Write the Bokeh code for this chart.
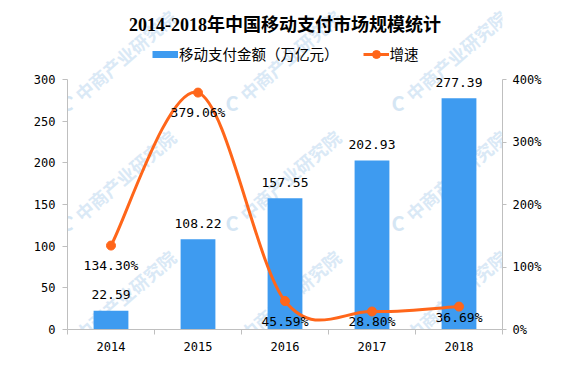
from bokeh.plotting import figure
from bokeh.models import (Range1d, LinearAxis, FixedTicker, PrintfTickFormatter,
                          Label, Legend, LegendItem, ColumnDataSource)
from bokeh.embed import file_html
from bokeh.resources import INLINE

# ---------------- data ----------------
years = ["2014", "2015", "2016", "2017", "2018"]
amount = [22.59, 108.22, 157.55, 202.93, 277.39]          # 万亿元
growth = [134.30, 379.06, 45.59, 28.80, 36.69]            # %
left_ticks = [0, 50, 100, 150, 200, 250, 300]
right_ticks = [0, 100, 200, 300, 400]

title_text = "2014-2018年中国移动支付市场规模统计"
bar_name = "移动支付金额（万亿元）"
line_name = "增速"
watermark = "中商产业研究院"

# ---------------- style ----------------
BLUE = "#3E9BF0"
ORANGE = "#FF661A"
AXIS = "#BFBFBF"
NUM_FONT = "DejaVu Sans Mono"
CJK_FONT = "Noto Sans CJK SC"

W, H = 552, 363
FRAME_H = 329          # frame spans the canvas top down to the x axis
AXIS_H = 250           # the value axes use the lower 250 px of the frame
LMAX, RMAX = left_ticks[-1], right_ticks[-1]

p = figure(width=W, height=H, output_backend="svg", toolbar_location=None,
           x_range=Range1d(0, len(years)),
           y_range=Range1d(0, LMAX * FRAME_H / AXIS_H),
           min_border_left=67, min_border_right=50, min_border_top=0,
           min_border_bottom=H - FRAME_H, title=None)
p.outline_line_color = None
p.xgrid.visible = False
p.ygrid.visible = False
p.extra_y_ranges = {"pct": Range1d(0, RMAX * FRAME_H / AXIS_H)}

xc = [i + 0.5 for i in range(len(years))]

# watermarks (decorative, frame-relative screen coords)
for X in [67, 232, 398]:
    for Y in [102, 222, 342]:
        p.add_layout(Label(x=X - 67 - 7, y=FRAME_H - Y, x_units="screen", y_units="screen",
                           text="C", text_color="#D5E6F4", text_font=CJK_FONT,
                           text_font_style="bold", text_font_size="20px",
                           text_align="left", text_baseline="middle", level="underlay"))
        p.add_layout(Label(x=X - 67 + 10, y=FRAME_H - Y + 6, x_units="screen", y_units="screen",
                           text=watermark, text_color="#DAE9F6", text_font=CJK_FONT,
                           text_font_style="bold", text_font_size="18px", angle=0.716,
                           text_align="left", text_baseline="middle", level="underlay"))

# bars
src = ColumnDataSource(dict(x=xc, top=amount, lab=[f"{v:.2f}" for v in amount],
                            g=growth, glab=[f"{v:.2f}%" for v in growth],
                            goff=[20, 20, 20, 10, 11]))
p.vbar(x="x", top="top", width=0.4, source=src, fill_color=BLUE, line_color=None)
p.text(x="x", y="top", text="lab", source=src, text_align="center",
       text_baseline="middle", y_offset=-16, text_font_size="13px",
       text_font={"value": NUM_FONT}, text_color="black")

# smooth line (bezier segments through the data points)
n = len(growth)
def pt(i):
    i = max(0, min(n - 1, i))
    return xc[i], growth[i]
seg = dict(x0=[], y0=[], x1=[], y1=[], cx0=[], cy0=[], cx1=[], cy1=[])
for i in range(n - 1):
    xa, ya = pt(i - 1); x0, y0 = pt(i); x1, y1 = pt(i + 1); xb, yb = pt(i + 2)
    seg["x0"].append(x0); seg["y0"].append(y0)
    seg["x1"].append(x1); seg["y1"].append(y1)
    seg["cx0"].append(x0 + (x1 - xa) / 6); seg["cy0"].append(y0 + (y1 - ya) / 6)
    seg["cx1"].append(x1 - (xb - x0) / 6); seg["cy1"].append(y1 - (yb - y0) / 6)
p.bezier(source=ColumnDataSource(seg), x0="x0", y0="y0", x1="x1", y1="y1",
         cx0="cx0", cy0="cy0", cx1="cx1", cy1="cy1", line_color=ORANGE,
         line_width=3, line_cap="round", y_range_name="pct")
p.scatter(x="x", y="g", source=src, size=9, fill_color=ORANGE, line_color=ORANGE,
          y_range_name="pct")
p.text(x="x", y="g", text="glab", source=src, text_align="center",
       text_baseline="middle", y_offset="goff", text_font_size="13px",
       text_font={"value": NUM_FONT}, text_color="black", y_range_name="pct")

# axes
p.xaxis.ticker = FixedTicker(ticks=xc, minor_ticks=list(range(len(years) + 1)))
p.xaxis.major_label_overrides = {x: y for x, y in zip(xc, years)}
p.xaxis.major_tick_line_color = None
p.xaxis.major_tick_out = 0
p.xaxis.minor_tick_in = 0
p.xaxis.minor_tick_out = 5
p.xaxis.minor_tick_line_color = AXIS
p.xaxis.axis_line_color = AXIS
p.xaxis.major_label_standoff = 7
p.xaxis.major_label_text_font = NUM_FONT
p.xaxis.major_label_text_font_size = "12px"
p.xaxis.major_label_text_color = "black"

p.yaxis.ticker = FixedTicker(ticks=left_ticks)
p.yaxis.bounds = (0, LMAX)
p.yaxis.axis_line_color = AXIS
p.yaxis.major_tick_line_color = AXIS
p.yaxis.minor_tick_line_color = None
p.yaxis.major_tick_in = 0
p.yaxis.major_tick_out = 5
p.yaxis.major_label_standoff = 7
p.yaxis.major_label_text_font = NUM_FONT
p.yaxis.major_label_text_font_size = "12px"
p.yaxis.major_label_text_color = "black"

ra = LinearAxis(y_range_name="pct", ticker=FixedTicker(ticks=right_ticks),
                formatter=PrintfTickFormatter(format="%d%%"), bounds=(0, RMAX))
ra.axis_line_color = AXIS
ra.major_tick_line_color = AXIS
ra.minor_tick_line_color = None
ra.major_tick_in = 0
ra.major_tick_out = 4
ra.major_label_standoff = 6
ra.major_label_text_font = NUM_FONT
ra.major_label_text_font_size = "12px"
ra.major_label_text_color = "black"
p.add_layout(ra, "right")

# legend with proxy renderers placed off the visible x range
d_bar = p.line(x=[-3, -2], y=[0, 0], line_color=BLUE, line_width=7, line_cap="butt")
d_line = p.line(x=[-3, -2], y=[0, 0], line_color=ORANGE, line_width=3)
d_pt = p.scatter(x=[-3], y=[0], size=9, fill_color=ORANGE, line_color=ORANGE)
leg = Legend(items=[LegendItem(label=bar_name, renderers=[d_bar]),
                    LegendItem(label=line_name, renderers=[d_line, d_pt])],
             orientation="horizontal", location=(85, FRAME_H - 64), padding=0, margin=0,
             spacing=24, glyph_width=26, glyph_height=20, label_height=20,
             label_standoff=1, border_line_color=None, background_fill_alpha=0,
             label_text_font=CJK_FONT, label_text_font_size="14.5px",
             label_text_color="black")
p.add_layout(leg, "center")

# title
p.add_layout(Label(x=217.5, y=FRAME_H - 24, x_units="screen", y_units="screen",
                   text=title_text, text_font="Liberation Serif, Noto Sans CJK SC",
                   text_font_style="bold", text_font_size="18px", text_align="center",
                   text_baseline="middle", text_color="black"))

open("out.html", "w").write(file_html(p, INLINE))
